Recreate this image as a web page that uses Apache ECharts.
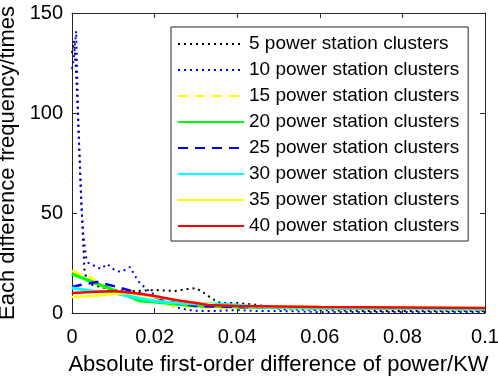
<!DOCTYPE html>
<html>
<head>
<meta charset="utf-8">
<script src="https://cdn.jsdelivr.net/npm/echarts@6/dist/echarts.min.js"></script>
<style>
  html, body { margin: 0; padding: 0; background: #fff; }
  #chart { width: 498px; height: 377px; }
</style>
</head>
<body>
<div id="chart"></div>
<script>
    // series names shown in the legend
    var names = ['5 power station clusters', '10 power station clusters', '15 power station clusters',
        '20 power station clusters', '25 power station clusters', '30 power station clusters',
        '35 power station clusters', '40 power station clusters'];

    var xTicks = [0, 0.02, 0.04, 0.06, 0.08, 0.1];
    var yTicks = [0, 50, 100, 150];

    // 5 clusters (black dotted)
    var x5 = [0, 0.0005, 0.001, 0.0015, 0.002, 0.0025, 0.003, 0.0035, 0.005, 0.007, 0.01, 0.013, 0.016, 0.02, 0.025, 0.028, 0.03, 0.032, 0.034, 0.036, 0.04, 0.045, 0.05, 0.06, 0.07, 0.08, 0.09, 0.1];
    var y5 = [130, 136, 120, 95, 70, 45, 22, 17, 14, 13, 11.5, 11, 11, 11.5, 11, 12, 12.5, 10, 7, 5, 5, 4, 2, 1.5, 1, 1, 1, 1];
    // 10 clusters (blue dotted)
    var x10 = [0, 0.0005, 0.001, 0.0015, 0.0022, 0.0027, 0.0034, 0.004, 0.005, 0.006, 0.007, 0.0085, 0.01, 0.011, 0.012, 0.014, 0.016, 0.018, 0.02, 0.022, 0.025, 0.028, 0.031, 0.035, 0.04, 0.045, 0.05, 0.06, 0.07, 0.08, 0.09, 0.1];
    var y10 = [122, 128, 141, 98, 56, 40, 28, 25, 24, 23, 22, 24.5, 22, 21, 20.5, 23, 16, 12, 9, 6, 3, 1.5, 1, 1, 1.5, 1, 1, 0.5, 0.5, 0.5, 0.5, 0.5];
    // 15 clusters (yellow dashed)
    var x15 = [0, 0.005, 0.01, 0.015, 0.02, 0.025, 0.03, 0.04, 0.06, 0.1];
    var y15 = [21, 17, 12, 8, 5.5, 3.5, 3, 2.5, 2.2, 2];
    // 20 clusters (green)
    var x20 = [0, 0.005, 0.01, 0.0165, 0.02, 0.025, 0.03, 0.04, 0.06, 0.1];
    var y20 = [19.5, 15.5, 11.5, 6, 5.5, 4.5, 3.5, 3, 2.5, 2];
    // 25 clusters (blue dashed)
    var x25 = [0, 0.002, 0.006, 0.011, 0.016, 0.02, 0.025, 0.03, 0.04, 0.06, 0.1];
    var y25 = [13, 14, 15.5, 13, 10, 8, 5, 3.5, 3, 2.5, 2];
    // 30 clusters (cyan)
    var x30 = [0, 0.005, 0.01, 0.016, 0.02, 0.025, 0.03, 0.035, 0.04, 0.045, 0.06, 0.1];
    var y30 = [12.5, 11, 10, 7.5, 6, 5, 4.5, 4.5, 4, 3, 2.5, 2];
    // 35 clusters (yellow)
    var x35 = [0, 0.005, 0.01, 0.014, 0.02, 0.025, 0.03, 0.035, 0.04, 0.06, 0.1];
    var y35 = [8, 8.5, 9.5, 10, 8, 6.5, 5, 4, 3.5, 3, 2.5];
    // 40 clusters (red)
    var x40 = [0, 0.005, 0.01, 0.015, 0.02, 0.025, 0.03, 0.033, 0.04, 0.06, 0.1];
    var y40 = [10, 10.5, 11, 10, 8.5, 6.5, 5, 4, 3.5, 3, 2.5];

    var xs = [x5, x10, x15, x20, x25, x30, x35, x40];
    var ys = [y5, y10, y15, y20, y25, y30, y35, y40];
    var colors = ['#000000', '#0000ff', '#ffff00', '#00ff00', '#0000ff', '#00ffff', '#ffff00', '#ff0000'];
    var dashes = [[2, 4], [2, 4], [10, 7], 'solid', [10, 7], 'solid', 'solid', 'solid'];
    var widths = [2, 2, 2.5, 3, 2.5, 3, 2.5, 2.5];

    function pairs(a, b) {
        var out = [];
        for (var i = 0; i < a.length; i++) {
            out.push([a[i], b[i]]);
        }
        return out;
    }

    var series = [];
    for (var k = 0; k < names.length; k++) {
        series.push({
            name: names[k],
            type: 'line',
            data: pairs(xs[k], ys[k]),
            symbol: 'none',
            smooth: false,
            color: colors[k],
            lineStyle: { color: colors[k], width: widths[k], type: dashes[k] }
        });
    }

    var font = 'Liberation Sans, Arial, sans-serif';
    var axisCol = '#262626';

    var chart = echarts.init(document.getElementById('chart'));
    chart.setOption({
        animation: false,
        textStyle: { fontFamily: font },
        grid: { left: 72, top: 13, right: 13, bottom: 64, containLabel: false, outerBoundsMode: 'none' },
        legend: {
            orient: 'vertical',
            left: 171,
            top: 27,
            padding: [7, 9, 5, 6],
            itemWidth: 66,
            itemHeight: 20,
            itemGap: 6,
            borderColor: axisCol,
            borderWidth: 1,
            borderRadius: 0,
            backgroundColor: '#ffffff',
            itemStyle: { color: 'rgba(0,0,0,0)', borderWidth: 0, opacity: 0 },
            textStyle: { fontFamily: font, fontSize: 19, color: '#000', lineHeight: 20 },
            data: names
        },
        xAxis: [{
            type: 'value',
            min: 0,
            max: 0.1,
            interval: 0.02,
            name: 'Absolute first-order difference of power/KW',
            nameLocation: 'middle',
            nameGap: 41,
            nameTextStyle: { fontFamily: font, fontSize: 22, color: '#000' },
            axisLine: { show: true, onZero: false, lineStyle: { color: axisCol, width: 1 } },
            axisTick: { show: true, inside: true, length: 5, lineStyle: { color: axisCol } },
            axisLabel: {
                fontFamily: font, fontSize: 20, color: '#000', margin: 14,
                formatter: function (v) { return xTicks.indexOf(v) >= 0 ? String(v) : ''; }
            },
            splitLine: { show: false }
        }, {
            type: 'value',
            position: 'top',
            min: 0,
            max: 0.1,
            interval: 0.02,
            axisLine: { show: true, onZero: false, lineStyle: { color: axisCol, width: 1 } },
            axisTick: { show: true, inside: true, length: 5, lineStyle: { color: axisCol } },
            axisLabel: { show: false },
            splitLine: { show: false }
        }],
        yAxis: [{
            type: 'value',
            min: 0,
            max: 150,
            interval: 50,
            name: 'Each difference frequency/times',
            nameLocation: 'middle',
            nameGap: 47,
            nameTextStyle: { fontFamily: font, fontSize: 22, color: '#000' },
            axisLine: { show: true, onZero: false, lineStyle: { color: axisCol, width: 1 } },
            axisTick: { show: true, inside: true, length: 5, lineStyle: { color: axisCol } },
            axisLabel: {
                fontFamily: font, fontSize: 20, color: '#000', margin: 9,
                formatter: function (v) { return yTicks.indexOf(v) >= 0 ? String(v) : ''; }
            },
            splitLine: { show: false }
        }, {
            type: 'value',
            position: 'right',
            min: 0,
            max: 150,
            interval: 50,
            axisLine: { show: true, onZero: false, lineStyle: { color: axisCol, width: 1 } },
            axisTick: { show: true, inside: true, length: 5, lineStyle: { color: axisCol } },
            axisLabel: { show: false },
            splitLine: { show: false }
        }],
        series: series
    });
</script>
</body>
</html>
